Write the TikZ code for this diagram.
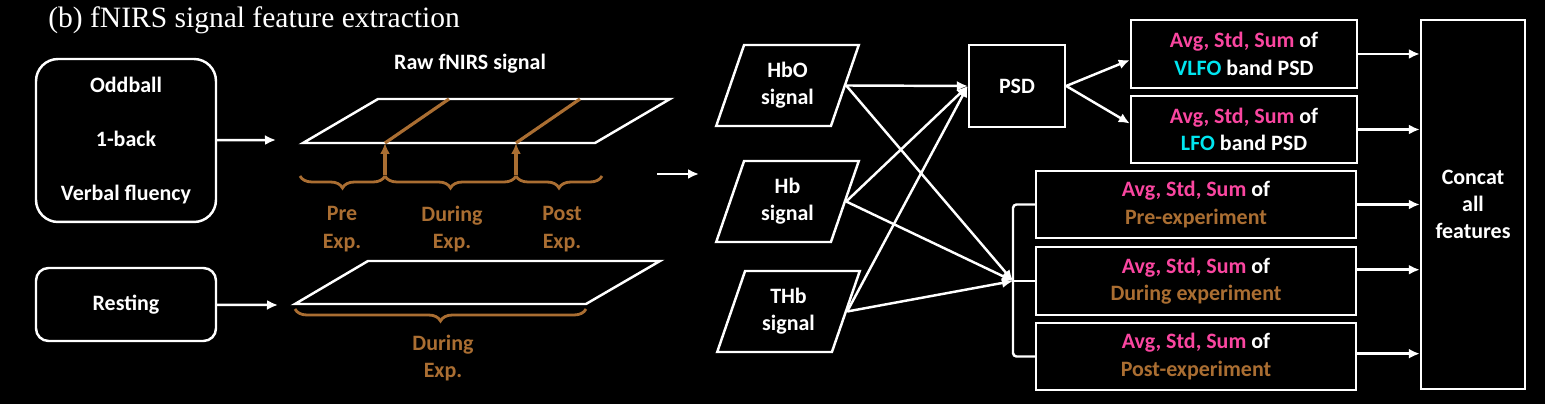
\documentclass[tikz,border=0pt]{standalone}
\usepackage{fontspec}
\setmainfont{Carlito}
\newfontfamily\titlefont{Liberation Serif}
\usetikzlibrary{arrows.meta, shapes.geometric, decorations.pathreplacing}
\definecolor{avgpink}{RGB}{250,70,160}
\definecolor{bandcyan}{RGB}{0,230,240}
\definecolor{expbrown}{RGB}{170,110,50}

\begin{document}
\begin{tikzpicture}[x=0.02cm, y=-0.02cm]

\tikzset{txt/.style = {text=white, font=\bfseries\fontsize{12.5}{15.5}\selectfont, align=center}}
\tikzset{box/.style = {txt, draw=white, line width=1.4pt, inner sep=0pt}}
\tikzset{rbox/.style = {box, rounded corners=0.25cm}}
\tikzset{sig/.style = {box, trapezium, trapezium left angle=70, trapezium right angle=110, trapezium stretches=true, minimum width=2.86cm, minimum height=1.62cm}}
\tikzset{edge/.style = {->, > = {Latex[length=0.22cm, width=0.2cm]}, white, line width=1.4pt}}
\tikzset{bedge/.style = {->, > = {Latex[length=0.22cm, width=0.2cm]}, expbrown, line width=1.8pt}}
\tikzset{brace/.style = {expbrown, line width=1.6pt, decorate, decoration={brace, mirror, amplitude=0.24cm}}}
\tikzset{explbl/.style = {txt, text=expbrown}}

\fill[black] (0,0) rectangle (1545,404);
\useasboundingbox (0,0) rectangle (1545,404);

\node[anchor=west, inner sep=0pt, text=white, font=\titlefont\fontsize{16.8}{19}\selectfont] (title) at (48,20.5) {(b) fNIRS signal feature extraction};

%tasks
\node[rbox, rounded corners=0.44cm, minimum width=3.6cm, minimum height=3.26cm] (tasks) at (126,140.5) {Oddball\\[15pt]1-back\\[15pt]Verbal fluency};
\node[rbox, minimum width=3.6cm, minimum height=1.46cm] (rest) at (126,304.5) {Resting};
\coordinate (rawin) at (276,140);
\coordinate (restin) at (278,305);
\draw[edge] (tasks) -- (rawin);
\draw[edge] (rest) -- (restin);

%raw signal
\node[txt] (rawlbl) at (470,64) {Raw fNIRS signal};
\draw[white, line width=1.4pt] (378,99) -- (670,99) -- (595,143) -- (303,143) -- cycle;
\draw[white, line width=1.4pt] (368,261) -- (660,261) -- (586,304) -- (295,304) -- cycle;
\coordinate (cut1) at (385,143);
\coordinate (cut2) at (516,143);
\coordinate (cut1b) at (385,175);
\coordinate (cut2b) at (516,175);
\draw[expbrown, line width=1.8pt] (cut1) -- (449,99);
\draw[expbrown, line width=1.8pt] (cut2) -- (580,99);
\draw[bedge] (cut1b) -- (cut1);
\draw[bedge] (cut2b) -- (cut2);
\draw[brace] (300,176) -- (385,176);
\draw[brace] (385,176) -- (516,176);
\draw[brace] (516,176) -- (602,176);
\draw[brace] (295,309) -- (586,309);
\node[explbl] (prelbl) at (342,229) {Pre\\Exp.};
\node[explbl] (durlbl) at (452,229) {During\\Exp.};
\node[explbl] (postlbl) at (562,229) {Post\\Exp.};
\node[explbl] (restlbl) at (443,358) {During\\Exp.};
\coordinate (midA) at (657,174);
\coordinate (midB) at (699,174);
\draw[edge] (midA) -- (midB);

%signals
\node[sig] (hbo) at (787.5,85.5) {HbO\\signal};
\node[sig] (hb) at (787.5,201.5) {Hb\\signal};
\node[sig] (thb) at (788.5,311.5) {THb\\signal};
\node[box, minimum width=1.92cm, minimum height=1.64cm] (psd) at (1017,86) {PSD};
\coordinate (join) at (1013,281);
\draw[edge] (hbo.east) -- (psd.west);
\draw[edge] (hb.east) -- (psd.west);
\draw[edge] (thb.east) -- (psd.west);
\draw[edge] (hbo.east) -- (join);
\draw[edge] (hb.east) -- (join);
\draw[edge] (thb.east) -- (join);

%features
\node[box, minimum width=4.52cm, minimum height=1.36cm] (vlfo) at (1244,54) {{\color{avgpink}Avg, Std, Sum} of\\{\color{bandcyan}VLFO} band PSD};
\node[box, minimum width=4.52cm, minimum height=1.34cm] (lfo) at (1244,129.5) {{\color{avgpink}Avg, Std, Sum} of\\{\color{bandcyan}LFO} band PSD};
\node[box, minimum width=6.4cm, minimum height=1.34cm] (pre) at (1196,204.5) {{\color{avgpink}Avg, Std, Sum} of\\{\color{expbrown}Pre-experiment}};
\node[box, minimum width=6.4cm, minimum height=1.36cm] (during) at (1196,281) {{\color{avgpink}Avg, Std, Sum} of\\{\color{expbrown}During experiment}};
\node[box, minimum width=6.4cm, minimum height=1.34cm] (post) at (1196,356.5) {{\color{avgpink}Avg, Std, Sum} of\\{\color{expbrown}Post-experiment}};
\node[box, minimum width=2.08cm, minimum height=7.38cm] (concat) at (1473,204.5) {Concat\\all\\features};
\draw[edge] (psd.east) -- (vlfo.183);
\draw[edge] (psd.east) -- (lfo.177);
\draw[white, line width=1.4pt, rounded corners=2pt] (pre.west) -- (pre.west -| join) -- (post.west -| join) -- (post.west);
\draw[white, line width=1.4pt] (join) -- (during.west);
\foreach \b/\a in {vlfo/0, lfo/0, pre/0, during/4, post/1.5}
  \draw[edge] (\b.\a) -- (\b.\a -| concat.west);

\end{tikzpicture}
\end{document}
